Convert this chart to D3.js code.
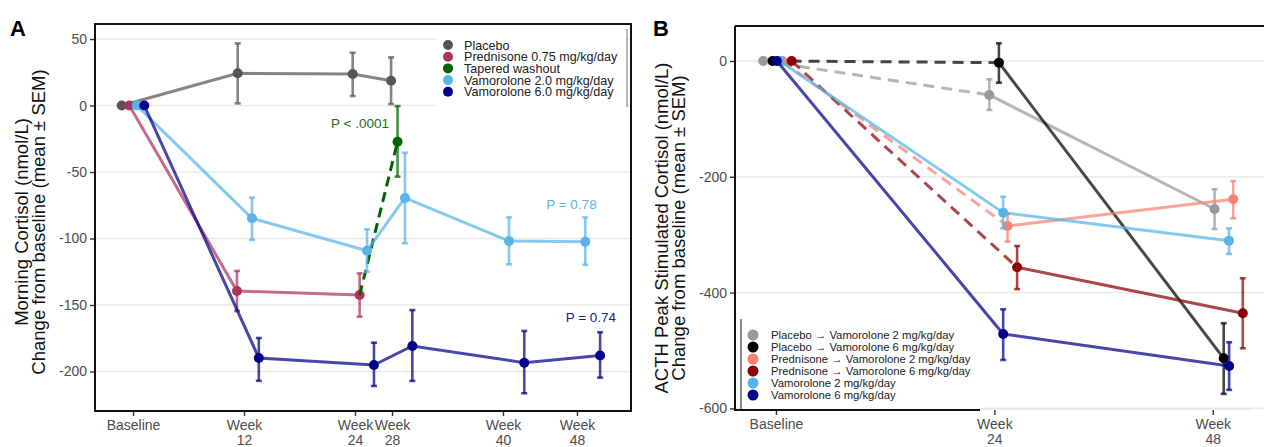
<!DOCTYPE html>
<html>
<head>
<meta charset="utf-8">
<script src="https://cdn.jsdelivr.net/npm/d3@7"></script>
<style>
body { margin: 0; background: #fff; }
svg { font-family: "Liberation Sans", Arial, sans-serif; }
</style>
</head>
<body>
<svg width="1264" height="447"></svg>
<script>
// ---- Panel A: morning cortisol (x in weeks, dodged) ----
const ticksA = [0, 12, 24, 28, 40, 48];
const tickLabelsA = ['Baseline', 'Week|12', 'Week|24', 'Week|28', 'Week|40', 'Week|48'];
const yTicksA = [50, 0, -50, -100, -150, -200];

const placeboX = [-1.22, 11.32, 23.75, 27.9];
const placeboY = [0, 24.2, 23.7, 18.6];
const placeboLo = [null, 1.6, 7.1, 1.1];
const placeboHi = [null, 46.7, 39.7, 36.2];

const prednisoneX = [-0.4, 11.24, 24.5];
const prednisoneY = [0, -139.5, -142.5];
const prednisoneLo = [null, -154.5, -158.8];
const prednisoneHi = [null, -124.4, -126.2];

const washoutX = [24.5, 28.6];
const washoutY = [-142.5, -27.2];
const washoutLo = [null, -53.5];
const washoutHi = [null, -0.4];

const vam2X = [0.4, 12.86, 25.3, 29.4, 40.65, 48.9];
const vam2Y = [0, -84.8, -109.2, -69.5, -101.9, -102.4];
const vam2Lo = [null, -101, -125, -103.6, -119.4, -119.8];
const vam2Hi = [null, -69.3, -93.1, -35.5, -84.1, -84.1];

const vam6X = [1.22, 13.6, 26.05, 30.2, 42.3, 50.5];
const vam6Y = [0, -189.8, -195.1, -180.8, -193.4, -188];
const vam6Lo = [null, -207, -210.9, -207.1, -216.4, -204.6];
const vam6Hi = [null, -174.8, -178.3, -153.8, -169.5, -170.5];

const legendA = ['Placebo', 'Prednisone 0.75 mg/kg/day', 'Tapered washout', 'Vamorolone 2.0 mg/kg/day', 'Vamorolone 6.0 mg/kg/day'];

// ---- Panel B: ACTH stimulated cortisol ----
const ticksB = [0, 24, 48];
const tickLabelsB = ['Baseline', 'Week|24', 'Week|48'];
const yTicksB = [0, -200, -400, -600];

const plaV2X = [-1.4, 23.45, 48.2];
const plaV2Y = [0, -58.7, -255.6];
const plaV2Lo = [null, -84.6, -290.2];
const plaV2Hi = [null, -31.6, -221.6];

const plaV6X = [-0.37, 24.5, 49.2];
const plaV6Y = [0, -2.9, -513.5];
const plaV6Lo = [null, -37.5, -575];
const plaV6Hi = [null, 30.6, -453];

const predV2X = [0.7, 25.45, 50.25];
const predV2Y = [0, -285, -238.9];
const predV2Lo = [null, -312, -271.7];
const predV2Hi = [null, -264, -207.3];

const predV6X = [1.72, 26.5, 51.3];
const predV6Y = [0, -356.4, -435.8];
const predV6Lo = [null, -394, -496.2];
const predV6Hi = [null, -319.5, -375.3];

const vamB2X = [0.4, 24.97, 49.78];
const vamB2Y = [0, -262, -310.3];
const vamB2Lo = [null, -289, -333.3];
const vamB2Hi = [null, -234.4, -289];

const vamB6X = [0.1, 24.97, 49.8];
const vamB6Y = [0, -471.5, -526.8];
const vamB6Lo = [null, -516.4, -568];
const vamB6Hi = [null, -428.9, -485.8];

const legendB = ['Placebo \u2192 Vamorolone 2 mg/kg/day', 'Placebo \u2192 Vamorolone 6 mg/kg/day',
	'Prednisone \u2192 Vamorolone 2 mg/kg/day', 'Prednisone \u2192 Vamorolone 6 mg/kg/day',
	'Vamorolone 2 mg/kg/day', 'Vamorolone 6 mg/kg/day'];

const svg = d3.select('svg');

const seriesA = [
	{x: placeboX, y: placeboY, lo: placeboLo, hi: placeboHi, color: '#555555'},
	{x: prednisoneX, y: prednisoneY, lo: prednisoneLo, hi: prednisoneHi, color: '#b03060'},
	{x: washoutX, y: washoutY, lo: washoutLo, hi: washoutHi, color: '#006400', dashAll: true, ptFrom: 1},
	{x: vam2X, y: vam2Y, lo: vam2Lo, hi: vam2Hi, color: '#56b4e9'},
	{x: vam6X, y: vam6Y, lo: vam6Lo, hi: vam6Hi, color: '#00008b'}
];

const seriesB = [
	{x: plaV2X, y: plaV2Y, lo: plaV2Lo, hi: plaV2Hi, color: '#999999', dashFirst: true},
	{x: plaV6X, y: plaV6Y, lo: plaV6Lo, hi: plaV6Hi, color: '#000000', dashFirst: true},
	{x: predV2X, y: predV2Y, lo: predV2Lo, hi: predV2Hi, color: '#fa8072', dashFirst: true},
	{x: predV6X, y: predV6Y, lo: predV6Lo, hi: predV6Hi, color: '#8b0000', dashFirst: true},
	{x: vamB2X, y: vamB2Y, lo: vamB2Lo, hi: vamB2Hi, color: '#56b4e9'},
	{x: vamB6X, y: vamB6Y, lo: vamB6Lo, hi: vamB6Hi, color: '#00008b'}
];

function drawAxes(g, x, y, xt, xl, yt) {
	g.append('g')
		.selectAll('line')
		.data(yt)
		.join('line')
		.attr('x1', x.range()[0]).attr('x2', x.range()[1])
		.attr('y1', d => y(d)).attr('y2', d => y(d))
		.attr('stroke', '#ebebeb').attr('stroke-width', 1.6);

	const ax = g.append('g')
		.attr('transform', 'translate(0,' + y.range()[0] + ')')
		.call(d3.axisBottom(x).tickValues(xt).tickSize(5).tickPadding(4).tickFormat(() => ''));
	ax.select('.domain').remove();
	ax.selectAll('.tick line').attr('stroke', '#333').attr('stroke-width', 1.4);
	ax.selectAll('.tick text').each(function(d, i) {
		const t = d3.select(this).attr('fill', '#4d4d4d').style('font-size', '14px');
		xl[i].split('|').forEach((s, j) => {
			t.append('tspan').attr('x', 0).attr('dy', j === 0 ? '0.71em' : '1.05em').text(s);
		});
	});

	const ay = g.append('g')
		.attr('transform', 'translate(' + x.range()[0] + ',0)')
		.call(d3.axisLeft(y).tickValues(yt).tickSize(5).tickPadding(3).tickFormat(d => String(d)));
	ay.select('.domain').remove();
	ay.selectAll('.tick line').attr('stroke', '#333').attr('stroke-width', 1.4);
	ay.selectAll('.tick text').attr('fill', '#4d4d4d').style('font-size', '14px');
}

function drawSeries(g, x, y, series, dash) {
	series.forEach(s => {
		const idx = d3.range(s.x.length);
		const line = d3.line().x(i => x(s.x[i])).y(i => y(s.y[i]));
		const sg = g.append('g');
		if (s.dashFirst) {
			sg.append('path').attr('d', line(idx.slice(0, 2)))
				.attr('fill', 'none').attr('stroke', s.color).attr('stroke-opacity', 0.72)
				.attr('stroke-width', 3).attr('stroke-dasharray', dash);
			sg.append('path').attr('d', line(idx.slice(1)))
				.attr('fill', 'none').attr('stroke', s.color).attr('stroke-opacity', 0.72)
				.attr('stroke-width', 3);
		} else {
			sg.append('path').attr('d', line(idx))
				.attr('fill', 'none').attr('stroke', s.color).attr('stroke-opacity', s.dashAll ? 1 : 0.72)
				.attr('stroke-width', 3).attr('stroke-dasharray', s.dashAll ? '10,6' : null);
		}
		const eb = idx.filter(i => s.lo[i] !== null);
		const e = sg.selectAll('g.eb').data(eb).join('g')
			.attr('stroke', s.color).attr('stroke-opacity', 0.72).attr('stroke-width', 2.6);
		e.append('line').attr('x1', i => x(s.x[i])).attr('x2', i => x(s.x[i]))
			.attr('y1', i => y(s.lo[i])).attr('y2', i => y(s.hi[i]));
		e.append('line').attr('x1', i => x(s.x[i]) - 3).attr('x2', i => x(s.x[i]) + 3)
			.attr('y1', i => y(s.lo[i])).attr('y2', i => y(s.lo[i]));
		e.append('line').attr('x1', i => x(s.x[i]) - 3).attr('x2', i => x(s.x[i]) + 3)
			.attr('y1', i => y(s.hi[i])).attr('y2', i => y(s.hi[i]));
		sg.selectAll('circle').data(idx.slice(s.ptFrom || 0)).join('circle')
			.attr('cx', i => x(s.x[i])).attr('cy', i => y(s.y[i]))
			.attr('r', 5).attr('fill', s.color);
	});
}

function yTitle(cx, cy, l1, l2, gap) {
	const t = svg.append('text')
		.attr('transform', 'translate(' + cx + ',' + cy + ') rotate(-90)')
		.attr('text-anchor', 'middle').style('font-size', '18.5px').attr('fill', '#111');
	t.append('tspan').attr('x', 0).attr('dy', 0).text(l1);
	t.append('tspan').attr('x', 0).attr('dy', gap).text(l2);
}

// ---------- Panel A ----------
const xA = d3.scaleLinear().domain([-4.11, 53.84]).range([95, 631]);
const yA = d3.scaleLinear().domain([-229.7, 61.3]).range([411, 24]);
const gA = svg.append('g');
drawAxes(gA, xA, yA, ticksA, tickLabelsA, yTicksA);

// legend box hides the grid
gA.append('rect').attr('x', 437).attr('y', 29).attr('width', 190).attr('height', 78).attr('fill', '#fff');
gA.append('line').attr('x1', 627).attr('x2', 627).attr('y1', 29).attr('y2', 107)
	.attr('stroke', '#777').attr('stroke-width', 1);

drawSeries(gA, xA, yA, seriesA, '10,6');

gA.append('rect').attr('x', 95).attr('y', 24).attr('width', 536).attr('height', 387)
	.attr('fill', 'none').attr('stroke', '#111').attr('stroke-width', 2);

legendA.forEach((d, i) => {
	gA.append('circle').attr('cx', 448).attr('cy', 45 + i * 11.7).attr('r', 5).attr('fill', seriesA[i].color);
	gA.append('text').attr('x', 464).attr('y', 45 + i * 11.7).attr('dy', '0.36em')
		.style('font-size', '12.6px').attr('fill', '#222').text(d);
});

gA.append('text').attr('x', xA(24.54)).attr('y', yA(-13.4)).attr('dy', '0.36em').attr('text-anchor', 'middle')
	.style('font-size', '13.5px').attr('fill', '#1a6b1a').text('P < .0001');
gA.append('text').attr('x', xA(47.4)).attr('y', yA(-74.3)).attr('dy', '0.36em').attr('text-anchor', 'middle')
	.style('font-size', '13.5px').attr('fill', '#56b4e9').text('P = 0.78');
gA.append('text').attr('x', xA(49.5)).attr('y', yA(-158.8)).attr('dy', '0.36em').attr('text-anchor', 'middle')
	.style('font-size', '13.5px').attr('fill', '#1a1a8c').text('P = 0.74');

yTitle(28, 222, 'Morning Cortisol (nmol/L)', 'Change from baseline (mean \u00b1 SEM)', 16.6);
svg.append('text').attr('x', 10).attr('y', 36).style('font-size', '22px').style('font-weight', 'bold').text('A');

// ---------- Panel B ----------
const xB = d3.scaleLinear().domain([-4.5, 53.63]).range([735, 1264]);
const yB = d3.scaleLinear().domain([-602.8, 60.4]).range([410, 26]);
const gB = svg.append('g');
drawAxes(gB, xB, yB, ticksB, tickLabelsB, yTicksB);

drawSeries(gB, xB, yB, seriesB, '11,7');

gB.append('rect').attr('x', 741).attr('y', 319).attr('width', 245).attr('height', 91).attr('fill', '#fff');
gB.append('line').attr('x1', 741).attr('x2', 741).attr('y1', 319).attr('y2', 410)
	.attr('stroke', '#111').attr('stroke-width', 1);
legendB.forEach((d, i) => {
	gB.append('circle').attr('cx', 753).attr('cy', 335 + i * 12).attr('r', 5.5).attr('fill', seriesB[i].color);
	gB.append('text').attr('x', 771).attr('y', 335 + i * 12).attr('dy', '0.36em')
		.style('font-size', '11.3px').attr('fill', '#222').text(d);
});

gB.append('line').attr('x1', 980).attr('x2', 1250).attr('y1', 409).attr('y2', 409)
	.attr('stroke', '#e3e3e3').attr('stroke-width', 1.6);
gB.append('path').attr('d', 'M735,26 V410 H980 M735,26 H1264')
	.attr('fill', 'none').attr('stroke', '#111').attr('stroke-width', 2);

yTitle(668, 228, 'ACTH Peak Stimulated Cortisol (nmol/L)', 'Change from baseline (mean \u00b1 SEM)', 17.4);
svg.append('text').attr('x', 653).attr('y', 36).style('font-size', '22px').style('font-weight', 'bold').text('B');
</script>
</body>
</html>
